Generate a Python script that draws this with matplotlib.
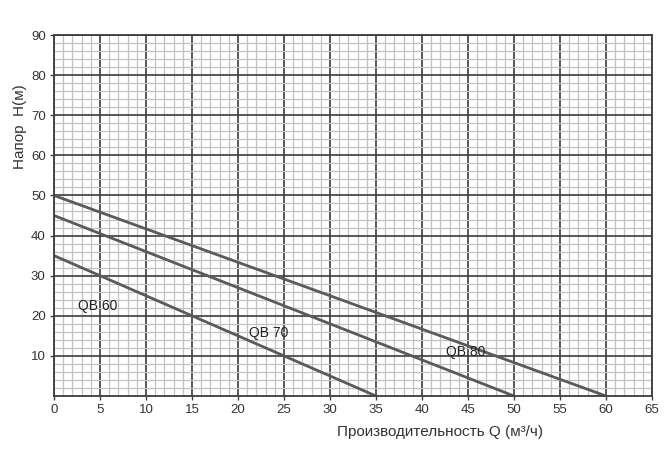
import matplotlib.pyplot as plt
from matplotlib.ticker import MultipleLocator

plt.rcParams['font.family'] = ['Liberation Sans', 'DejaVu Sans']

# pump curves: (flow Q, head H) end points
pumps = ["QB 60", "QB 70", "QB 80"]
flow = [[0, 35], [0, 50], [0, 60]]
head = [[35, 0], [45, 0], [50, 0]]
label_pos = [(2.6, 22.4), (21.2, 15.7), (42.6, 11.0)]

x_ticks = list(range(0, 70, 5))
y_ticks = list(range(10, 100, 10))

fig = plt.figure(figsize=(6.7, 4.71), dpi=100)
ax = fig.add_axes([54 / 670, 75 / 471, 598 / 670, 361 / 471])

ax.set_xlim(0, 65)
ax.set_ylim(0, 90)
ax.xaxis.set_major_locator(MultipleLocator(5))
ax.xaxis.set_minor_locator(MultipleLocator(1))
ax.yaxis.set_major_locator(MultipleLocator(10))
ax.yaxis.set_minor_locator(MultipleLocator(2))
ax.set_xticks(x_ticks)
ax.set_yticks(y_ticks)

ax.grid(True, which="minor", color="#c2c2c2", lw=0.9)
ax.grid(True, which="major", color="#3c3c3c", lw=1.2)
ax.set_axisbelow(True)
ax.tick_params(which="minor", length=0)
ax.tick_params(which="major", length=3, width=1, color="#444444",
               labelsize=9.5, labelcolor="#333333", pad=3)
for s in ax.spines.values():
    s.set_color("#3c3c3c")
    s.set_linewidth(1.3)

for name, q, h, (tx, ty) in zip(pumps, flow, head, label_pos):
    ax.plot(q, h, color="#5a5a5a", lw=2, solid_capstyle="butt")
    ax.text(tx, ty, name, fontsize=10, color="#222222", va="center")

fig.text(20 / 670, 1 - 127 / 471, "Напор  H(м)", rotation=90, fontsize=11,
         color="#333333", ha="center", va="center")
fig.text(337 / 670, 1 - 432 / 471, "Производительность Q (м³/ч)", fontsize=11,
         color="#333333", ha="left", va="center")

fig.savefig("out.png", dpi=100)
